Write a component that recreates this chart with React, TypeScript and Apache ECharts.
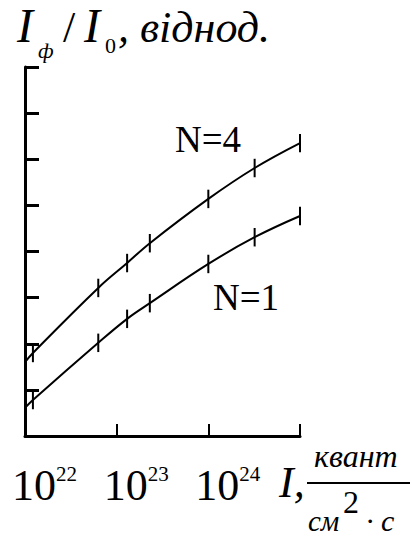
import React, { useEffect, useRef } from "react";
import * as echarts from "echarts";

// Intensity I, квант/(см²·с)
const intensity = [1e22, 1.22e22, 6.3e22, 1.3e23, 2.3e23, 1e24, 3.2e24, 1e25];
// I_ф / I_0, relative units
const seriesN4 = [1.6, 1.8, 3.21, 3.75, 4.18, 5.14, 5.81, 6.35];
const seriesN1 = [0.61, 0.78, 2.02, 2.54, 2.88, 3.73, 4.31, 4.77];
// indices of points carrying error bars, and the half-width of the bars
const errorIdx = [1, 2, 3, 4, 5, 6, 7];
const errorHalf = 0.2;
const xTickExponents = [22, 23, 24];

const SERIF = "Liberation Serif";

function mid(baseline: number, fs: number) {
  return baseline - 0.3375 * fs;
}

function txt(text: string, x: number, baseline: number, fs: number, italic: boolean) {
  return {
    type: "text",
    x,
    y: mid(baseline, fs),
    style: {
      text,
      fill: "#000",
      fontFamily: SERIF,
      fontSize: fs,
      fontStyle: italic ? "italic" : "normal",
      textAlign: "left",
      textVerticalAlign: "middle",
      verticalAlign: "middle",
    },
  };
}

export default function App() {
  const ref = useRef<HTMLDivElement>(null);
  useEffect(() => {
    if (!ref.current) return;
    const chart = echarts.init(ref.current, undefined, { renderer: "svg" });
    const lineData = (ys: number[]) => intensity.map((x, i) => [x, ys[i]]);
    const errData = (ys: number[]) =>
      errorIdx.map((i) => [intensity[i], ys[i] - errorHalf, ys[i] + errorHalf]);
    const renderErr = (_p: any, api: any) => {
      const x = api.value(0);
      const a = api.coord([x, api.value(1)]);
      const b = api.coord([x, api.value(2)]);
      return {
        type: "line",
        shape: { x1: a[0], y1: a[1], x2: b[0], y2: b[1] },
        style: { stroke: "#000", lineWidth: 2 },
      };
    };
    chart.setOption({
      animation: false,
      backgroundColor: "#fff",
      grid: { left: 25, right: 112, top: 67, bottom: 100, containLabel: false },
      xAxis: {
        type: "log",
        logBase: 10,
        min: 1e22,
        max: 1e25,
        interval: 1,
        axisLine: { show: true, lineStyle: { color: "#000", width: 3 } },
        axisTick: { show: true, inside: true, length: 12, lineStyle: { color: "#000", width: 2 } },
        splitLine: { show: false },
        axisLabel: {
          margin: 27,
          padding: [0, 0, 0, 39],
          formatter: (v: number) => {
            const e = Math.round(Math.log10(v));
            return xTickExponents.includes(e) ? `{b|10}{s|${e}}` : "";
          },
          rich: {
            b: { fontFamily: SERIF, fontSize: 44, lineHeight: 44, color: "#000" },
            s: { fontFamily: SERIF, fontSize: 21, lineHeight: 21, color: "#000", verticalAlign: "top" },
          },
        },
      },
      yAxis: {
        type: "value",
        min: 0,
        max: 8,
        interval: 1,
        axisLine: { show: true, lineStyle: { color: "#000", width: 3 } },
        axisTick: { show: true, inside: true, length: 14, lineStyle: { color: "#000", width: 3 } },
        axisLabel: { show: false },
        splitLine: { show: false },
      },
      series: [
        {
          type: "line",
          name: "N=4",
          data: lineData(seriesN4),
          smooth: 0.4,
          symbol: "none",
          lineStyle: { color: "#000", width: 2 },
        },
        {
          type: "line",
          name: "N=1",
          data: lineData(seriesN1),
          smooth: 0.4,
          symbol: "none",
          lineStyle: { color: "#000", width: 2 },
        },
        { type: "custom", data: errData(seriesN4), renderItem: renderErr, z: 3 },
        { type: "custom", data: errData(seriesN1), renderItem: renderErr, z: 3 },
      ],
      graphic: [
        // title
        txt("I", 17, 42, 48, true),
        txt("ф", 38, 58, 22, true),
        txt("/", 63, 42, 44, false),
        txt("I", 84, 42, 48, true),
        txt("0", 105, 53, 22, false),
        txt(", віднод.", 118, 42, 44, true),
        // series labels
        txt("N=4", 175, 152, 37, false),
        txt("N=1", 213, 310, 37, false),
        // x unit
        txt("I,", 279, 497, 44, true),
        txt("квант", 314, 467, 32, true),
        {
          type: "line",
          shape: { x1: 307, y1: 483, x2: 410, y2: 483 },
          style: { stroke: "#000", lineWidth: 2 },
        },
        txt("2", 343, 513, 32, false),
        txt("см", 308, 531, 29, true),
        txt("· c", 366, 531, 30, true),
      ],
    });
    return () => chart.dispose();
  }, []);
  return (
    <div
      ref={ref}
      style={{ position: "fixed", left: 0, top: 0, width: 412, height: 536, background: "#fff" }}
    />
  );
}
